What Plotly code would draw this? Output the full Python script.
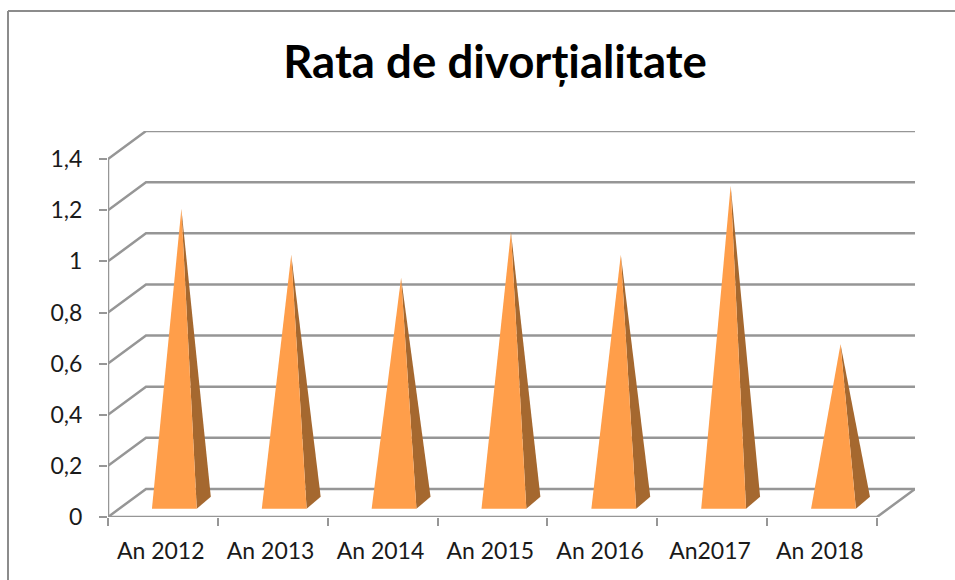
import plotly.graph_objects as go

categories = ["An 2012", "An 2013", "An 2014", "An 2015", "An 2016", "An2017", "An 2018"]
values = [1.15, 0.97, 0.88, 1.06, 0.97, 1.24, 0.62]
y_ticks = [0, 0.2, 0.4, 0.6, 0.8, 1.0, 1.2, 1.4]
y_labels = ["0", "0,2", "0,4", "0,6", "0,8", "1", "1,2", "1,4"]
title = "Rata de divorțialitate"

GRID = "#969696"
FRONT = "#FF9E4A"
SIDE = "#A5682F"
TEXT = "#1a1a1a"
FONT = "Lato, Carlito, Calibri, sans-serif"

# Oblique projection of the 3D depth, in axis units
DX, DY = 0.346, 0.11
n = len(categories)
YMAX = y_ticks[-1]

fig = go.Figure()


def line(xs, ys):
    fig.add_trace(go.Scatter(x=xs, y=ys, mode="lines", hoverinfo="skip", cliponaxis=False,
                             line=dict(color=GRID, width=2.5), showlegend=False))


# Wall gridlines with their receding part on the side wall
for t in y_ticks:
    line([0, DX, n + DX], [t, t + DY, t + DY])
# Floor and axes
line([0, n, n + DX], [0, 0, DY])
line([0, 0], [0, YMAX])

# Pyramids
for i, v in enumerate(values):
    left, right = i + 0.40, i + 0.808
    base = 0.032
    dx, dy = 0.128, 0.047
    ax = (left + right + dx) / 2
    ay = base + dy / 2 + v
    fig.add_trace(go.Scatter(x=[right, right + dx, ax, right], y=[base, base + dy, ay, base],
                             mode="lines", fill="toself", fillcolor=SIDE, line=dict(width=0),
                             hoverinfo="skip", showlegend=False))
    fig.add_trace(go.Scatter(x=[left, right, ax, left], y=[base, base, ay, base],
                             mode="lines", fill="toself", fillcolor=FRONT, line=dict(width=0),
                             name=categories[i], showlegend=False))

fig.update_layout(
    width=955, height=580, autosize=False,
    margin=dict(l=108, r=40, t=131, b=63, pad=0),
    paper_bgcolor="white", plot_bgcolor="white",
    showlegend=False,
    title=dict(text="<b>" + title + "</b>", x=495 / 955, xanchor="center", y=1 - 62 / 580, yanchor="middle",
               font=dict(family=FONT, size=45.6, color="black")),
    xaxis=dict(range=[0, n + DX], showgrid=False, zeroline=False, showline=False,
               tickmode="array", tickvals=[i + 0.48 for i in range(n)], ticktext=categories,
               ticks="", ticklabelstandoff=18,
               tickfont=dict(family=FONT, size=23, color=TEXT),
               minor=dict(tickmode="array", tickvals=list(range(n + 1)), ticks="outside",
                          ticklen=8, tickwidth=2, tickcolor=GRID, showgrid=False)),
    yaxis=dict(range=[0, YMAX + DY], showgrid=False, zeroline=False, showline=False,
               tickmode="array", tickvals=y_ticks, ticktext=y_labels,
               ticks="outside", ticklen=8, tickwidth=2, tickcolor=GRID,
               ticklabelstandoff=12,
               tickfont=dict(family=FONT, size=23, color=TEXT)),
    shapes=[
        dict(type="line", xref="paper", yref="paper", x0=-100 / 807, x1=847 / 807,
             y0=(517 - 11) / 386, y1=(517 - 11) / 386, line=dict(color="#8c8c8c", width=2)),
        dict(type="line", xref="paper", yref="paper", x0=-100 / 807, x1=-100 / 807,
             y0=(517 - 11) / 386, y1=-0.2, line=dict(color="#8c8c8c", width=2)),
    ],
)

fig.write_html("out.html", config={"displayModeBar": False},
               post_script="document.body.style.margin='0';")
